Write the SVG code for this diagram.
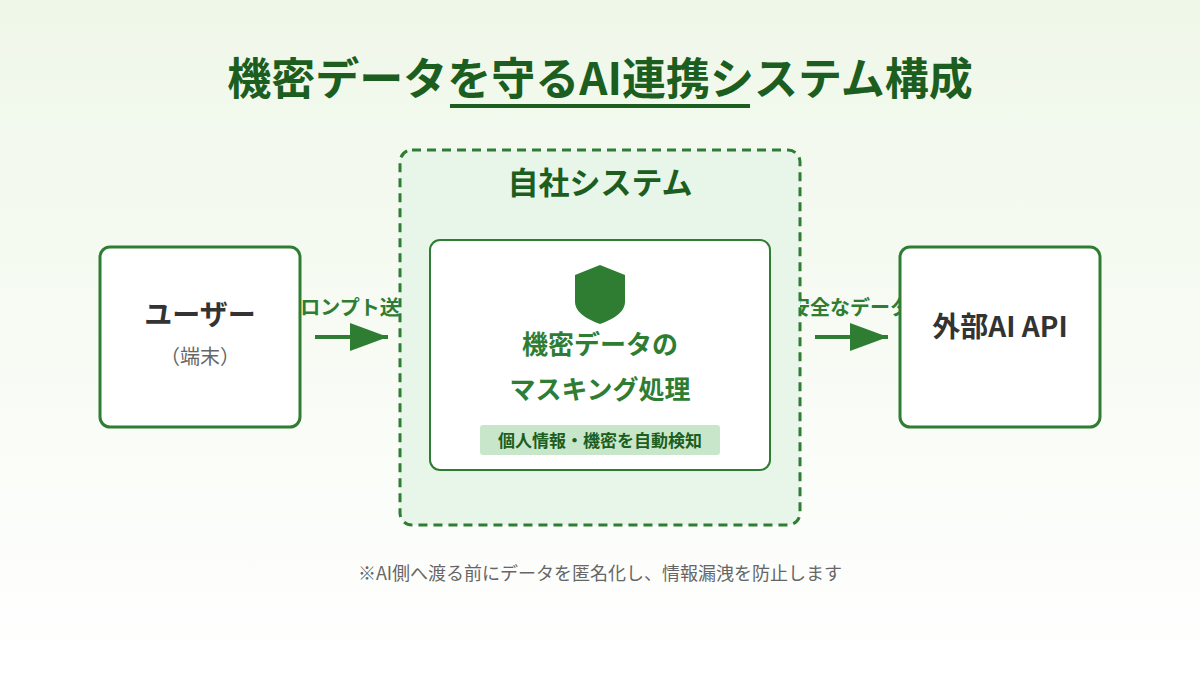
<svg xmlns="http://www.w3.org/2000/svg" width="1200" height="675" viewBox="0 0 1200 675">
<defs>
<linearGradient id="bg" x1="0" y1="0" x2="0" y2="1"><stop offset="0" stop-color="#eff7e9"/><stop offset="1" stop-color="#ffffff"/></linearGradient>
<style>
text{font-family:"Noto Sans CJK JP","Noto Sans",sans-serif;font-weight:bold;text-anchor:middle}
.box{fill:#fff;stroke:#2e7d32;stroke-width:3}
.lbl{font-size:20px;fill:#2e7d32}
</style>
</defs>
<rect width="1200" height="675" fill="url(#bg)"/>
<text x="600" y="95" font-size="44" fill="#1b5e20">機密データを守るAI連携システム構成</text>
<rect x="450" y="104" width="300" height="4" fill="#1b5e20"/>
<g id="connectors">
<text class="lbl" x="350" y="315">プロンプト送信</text>
<line x1="315" y1="337" x2="388" y2="337" stroke="#2e7d32" stroke-width="4"/>
<path d="M350,323 L388,337 L350,351 z" fill="#2e7d32"/>
<text class="lbl" x="850" y="315">安全なデータ</text>
<line x1="815" y1="337" x2="888" y2="337" stroke="#2e7d32" stroke-width="4"/>
<path d="M850,323 L888,337 L850,351 z" fill="#2e7d32"/>
</g>
<g id="user"><rect class="box" x="100" y="247" width="200" height="180" rx="10"/>
<text x="200" y="325" font-size="28" fill="#333">ユーザー</text>
<text x="200" y="364" font-size="20" style="font-weight:normal" fill="#666">（端末）</text></g>
<g id="system"><rect x="400" y="150" width="400" height="375" rx="12" fill="#e8f5e9" stroke="#2e7d32" stroke-width="3" stroke-dasharray="9,6"/>
<text x="600" y="194" font-size="31" fill="#1b5e20">自社システム</text></g>
<g id="masking"><rect x="430" y="240" width="340" height="230" rx="10" fill="#fff" stroke="#2e7d32" stroke-width="2"/>
<path d="M600,265 L625,275 L625,302 Q625,315 600,324 Q575,315 575,302 L575,275 z" fill="#2e7d32"/>
<text x="600" y="354" font-size="26" fill="#2e7d32">機密データの</text>
<text x="600" y="399" font-size="26" fill="#2e7d32">マスキング処理</text>
<rect x="480" y="425" width="240" height="30" rx="3" fill="#c8e6c9"/>
<text x="600" y="447" font-size="17" fill="#1b5e20">個人情報・機密を自動検知</text></g>
<g id="api"><rect class="box" x="900" y="247" width="200" height="180" rx="10"/>
<text x="1000" y="337" font-size="28" fill="#333">外部AI API</text></g>
<text x="600" y="580" font-size="18" fill="#666" style="font-weight:normal">※AI側へ渡る前にデータを匿名化し、情報漏洩を防止します</text>
</svg>
